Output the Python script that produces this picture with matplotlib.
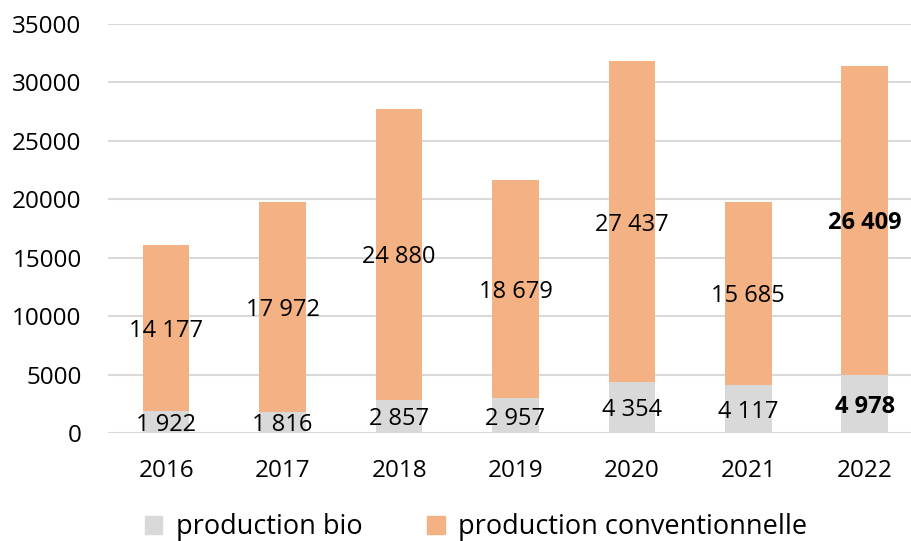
import numpy as np
import matplotlib.pyplot as plt
from matplotlib.patches import Patch

annees = ["2016", "2017", "2018", "2019", "2020", "2021", "2022"]
prod_bio = [1922, 1816, 2857, 2957, 4354, 4117, 4978]
prod_conv = [14177, 17972, 24880, 18679, 27437, 15685, 26409]

gris = "#D9D9D9"
orange = "#F4B183"

plt.rcParams['font.family'] = ['Open Sans', 'DejaVu Sans']

def fmt(v):
    return f"{v:,}".replace(",", " ")

fig = plt.figure(figsize=(9.12, 5.41), dpi=100)
ax = fig.add_axes([108/912, (541-433)/541, (923-108)/912, (433-24)/541])

x = np.arange(len(annees))
w = 0.40
ax.bar(x, prod_bio, w, color=gris, zorder=2)
ax.bar(x, prod_conv, w, bottom=prod_bio, color=orange, zorder=2)

# petit décalage vers le bas des étiquettes, comme dans Excel
dy = -250
for i in range(len(annees)):
    poids = 'bold' if annees[i] == "2022" else 'normal'
    ax.text(x[i], prod_bio[i] / 2 + dy, fmt(prod_bio[i]), ha='center', va='center',
            fontsize=17, fontweight=poids, zorder=3)
    ax.text(x[i], prod_bio[i] + prod_conv[i] / 2 + dy, fmt(prod_conv[i]), ha='center',
            va='center', fontsize=17, fontweight=poids, zorder=3)

ax.set_ylim(0, 35000)
ax.set_xlim(-0.5, len(annees) - 0.5)
ax.set_yticks(range(0, 35001, 5000))
ax.set_xticks(x)
ax.set_xticklabels(annees)
ax.tick_params(axis='both', length=0, labelsize=17.5)
ax.tick_params(axis='y', pad=19)
ax.tick_params(axis='x', pad=19)
ax.yaxis.grid(True, color=gris, linewidth=1.5, zorder=0)
for s in ax.spines.values():
    s.set_visible(False)

handles = [Patch(color=gris, label="production bio"),
           Patch(color=orange, label="production conventionnelle")]
fig.legend(handles=handles, loc='center', bbox_to_anchor=(0.522, 0.025), ncol=2,
           frameon=False, fontsize=19.5, handlelength=0.65, handleheight=0.65,
           columnspacing=2.4, handletextpad=0.5)

fig.savefig("out.png", dpi=100)
